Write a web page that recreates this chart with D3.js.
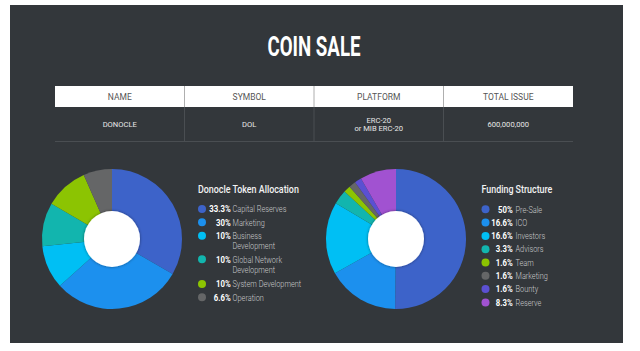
<!DOCTYPE html>
<html><head><meta charset="utf-8">
<script src="https://cdn.jsdelivr.net/npm/d3@7"></script>
<style>
html,body{margin:0;padding:0;background:#fff;}
svg{display:block;}
</style></head>
<body>
<svg id="chart" width="640" height="351"></svg>
<script>
const tableHeaders = ["NAME", "SYMBOL", "PLATFORM", "TOTAL ISSUE"];
const tableValues = [["DONOCLE"], ["DOL"], ["ERC-20", "or MIB ERC-20"], ["600,000,000"]];

const allocLabels = [["Capital Reserves"], ["Marketing"], ["Business", "Development"], ["Global Network", "Development"], ["System Development"], ["Operation"]];
const allocPct = ["33.3%", "30%", "10%", "10%", "10%", "6.6%"];
const allocValues = [33.3, 30, 10, 10, 10, 6.6];
const allocColors = ["#3d63c9", "#1c90ee", "#00bff4", "#12b5ae", "#8cc402", "#656667"];

const fundLabels = [["Pre-Sale"], ["ICO"], ["Investors"], ["Advisors"], ["Team"], ["Marketing"], ["Bounty"], ["Reserve"]];
const fundPct = ["50%", "16.6%", "16.6%", "3.3%", "1.6%", "1.6%", "1.6%", "8.3%"];
const fundValues = [50, 16.6, 16.6, 3.3, 1.6, 1.6, 1.6, 8.3];
const fundColors = ["#3d63c9", "#1c90ee", "#00bff4", "#12b5ae", "#8cc402", "#656667", "#5b50d2", "#a152d1"];

const FONT = "Roboto, 'DejaVu Sans', sans-serif";
const svg = d3.select("#chart");

// measure natural width of a string at given style, to derive a condensing factor
function measure(str, size, weight) {
  const t = svg.append("text").attr("font-family", FONT).attr("font-size", size)
    .attr("font-weight", weight).text(str);
  const w = t.node().getComputedTextLength();
  t.remove();
  return w;
}
function style(sample, target, size, weight) {
  return { size, weight, sx: target / measure(sample, size, weight) };
}
function txt(parent, x, y, str, st, fill, anchor) {
  return parent.append("text")
    .attr("transform", `translate(${x},${y}) scale(${st.sx},1)`)
    .attr("text-anchor", anchor || "start")
    .attr("font-family", FONT).attr("font-size", st.size).attr("font-weight", st.weight)
    .attr("fill", fill).text(str);
}

const sTitle = style("COIN SALE", 93, 27, "bold");
const sHead = style("TOTAL ISSUE", 50.5, 9.3, "normal");
const sBody = style("600,000,000", 41.5, 8, "normal");
const sLegT = style("Donocle Token Allocation", 101, 10.8, "500");
const sLab = style("Capital Reserves", 54, 8.8, "300");
const sPct = style("33.3%", 21.4, 8.8, "bold");

// panel
svg.append("rect").attr("x", 10).attr("y", 5).attr("width", 613).attr("height", 338).attr("fill", "#33373b");

// title
txt(svg, 314, 55.5, "COIN SALE", sTitle, "#fff", "middle");

// table
const tx = d3.scaleBand().domain(d3.range(tableHeaders.length)).range([55, 573]);
svg.append("rect").attr("x", 55).attr("y", 86).attr("width", 518).attr("height", 21).attr("fill", "#fff");
tableHeaders.forEach((h, i) => txt(svg, tx(i) + tx.bandwidth() / 2, 99.6, h, sHead, "#555", "middle"));
svg.selectAll(".sep").data(d3.range(1, tableHeaders.length)).join("line")
  .attr("x1", d => tx(d)).attr("x2", d => tx(d)).attr("y1", 107).attr("y2", 142)
  .attr("stroke", "#4a4e52").attr("stroke-width", 1);
svg.selectAll(".sepw").data(d3.range(1, tableHeaders.length)).join("line")
  .attr("x1", d => tx(d)).attr("x2", d => tx(d)).attr("y1", 86).attr("y2", 107)
  .attr("stroke", "#9a9a9a").attr("stroke-width", 0.8);
svg.append("line").attr("x1", 55).attr("x2", 573).attr("y1", 141.5).attr("y2", 141.5)
  .attr("stroke", "#4a4e52").attr("stroke-width", 1);
tableValues.forEach((lines, i) => {
  const n = lines.length;
  lines.forEach((t, j) => {
    txt(svg, tx(i) + tx.bandwidth() / 2, 127 + (j - (n - 1) / 2) * 8, t, sBody, "#e8e8e8", "middle");
  });
});

// shadow filter
const defs = svg.append("defs");
const f = defs.append("filter").attr("id", "sh").attr("x", "-30%").attr("y", "-30%").attr("width", "160%").attr("height", "160%");
f.append("feDropShadow").attr("dx", 0).attr("dy", 0).attr("stdDeviation", 1.5).attr("flood-color", "#000").attr("flood-opacity", 0.45);

function donut(cx, cy, values, colors) {
  const pie = d3.pie().sort(null).value(d => d);
  const arc = d3.arc().innerRadius(0).outerRadius(70);
  const g = svg.append("g").attr("transform", `translate(${cx},${cy})`);
  g.selectAll("path").data(pie(values)).join("path")
    .attr("d", arc).attr("fill", (d, i) => colors[i]);
  g.append("circle").attr("r", 28).attr("fill", "#fff").attr("filter", "url(#sh)");
}
donut(112, 239, allocValues, allocColors);
donut(396, 239, fundValues, fundColors);

function legend(x, titleY, title, pcts, labels, colors, ys, pctX, labX) {
  txt(svg, x, titleY, title, sLegT, "#f2f2f2");
  pcts.forEach((p, i) => {
    const y = ys[i];
    svg.append("circle").attr("cx", x + 4).attr("cy", y).attr("r", 4).attr("fill", colors[i]);
    txt(svg, pctX, y + 3.2, p, sPct, "#fff", "end");
    labels[i].forEach((t, j) => txt(svg, labX, y + 3.2 + j * 10, t, sLab, "#c9cacb"));
  });
}
legend(198, 193, "Donocle Token Allocation", allocPct, allocLabels, allocColors,
  [209, 222.3, 235.7, 259.3, 284, 297.3], 230.7, 232.5);
legend(481.5, 193, "Funding Structure", fundPct, fundLabels, fundColors,
  [209.3, 222.6, 235.9, 249.2, 262.5, 275.8, 289.1, 302.4], 512.7, 515.5);
</script>
</body></html>
